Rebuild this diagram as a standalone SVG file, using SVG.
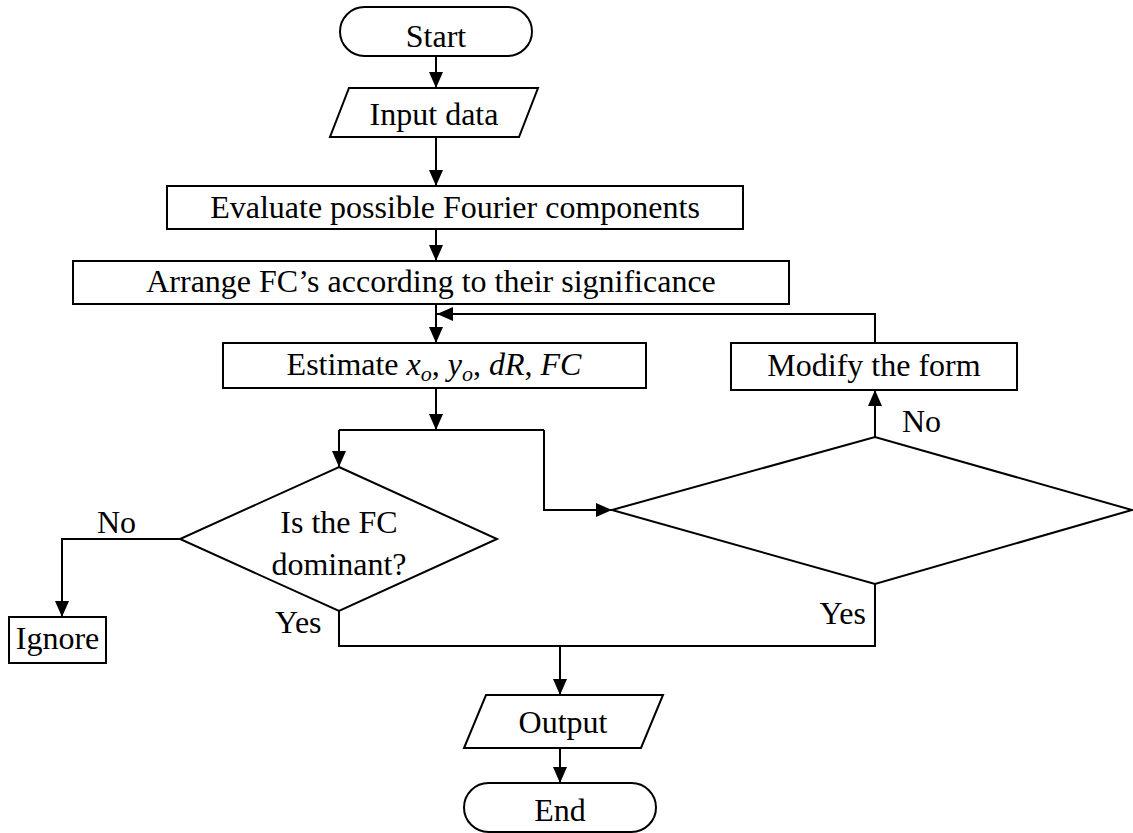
<svg xmlns="http://www.w3.org/2000/svg" width="1133" height="833" viewBox="0 0 1133 833">
<style>
.s{fill:#fff;stroke:#000;stroke-width:2}
.t{font-family:"Liberation Serif","Times New Roman",serif;font-size:32px;fill:#000}
.c{fill:none;stroke:#000;stroke-width:2}
.i{font-style:italic}
</style>
<defs>
<marker id="ah" markerUnits="userSpaceOnUse" markerWidth="16" markerHeight="14" refX="16" refY="7" orient="auto">
<path d="M0,0 L16,7 L0,14 z" fill="#000"/>
</marker>
</defs>
<rect width="1133" height="833" fill="#fff"/>
<g id="connectors">
<path class="c" d="M436,56 V88" marker-end="url(#ah)"/>
<path class="c" d="M436,137 V186" marker-end="url(#ah)"/>
<path class="c" d="M436,229 V261" marker-end="url(#ah)"/>
<path class="c" d="M436,304 V343" marker-end="url(#ah)"/>
<path class="c" d="M875,343 V314 H437" marker-end="url(#ah)"/>
<path class="c" d="M436,388 V430" marker-end="url(#ah)"/>
<path class="c" d="M339,430 H544"/>
<path class="c" d="M339,430 V467" marker-end="url(#ah)"/>
<path class="c" d="M544,430 V510 H612" marker-end="url(#ah)"/>
<path class="c" d="M875,437 V390" marker-end="url(#ah)"/>
<path class="c" d="M875,584 V646 H339 V611"/>
<path class="c" d="M560,646 V695" marker-end="url(#ah)"/>
<path class="c" d="M560,748 V783" marker-end="url(#ah)"/>
<path class="c" d="M180,539 H62 V617" marker-end="url(#ah)"/>
<text class="t" x="97" y="533">No</text>
<text class="t" x="275" y="633">Yes</text>
<text class="t" x="902" y="432">No</text>
<text class="t" x="866" y="624" text-anchor="end">Yes</text>
</g>
<g id="start">
<rect class="s" x="340" y="7" width="192" height="49" rx="24.5"/>
<text class="t" x="436" y="47" text-anchor="middle">Start</text>
</g>
<g id="input">
<polygon class="s" points="349,88 538,88 519,137 330,137"/>
<text class="t" x="434" y="125" text-anchor="middle">Input data</text>
</g>
<g id="evaluate">
<rect class="s" x="167" y="186" width="576" height="43"/>
<text class="t" x="455" y="218" text-anchor="middle">Evaluate possible Fourier components</text>
</g>
<g id="arrange">
<rect class="s" x="73" y="261" width="716" height="43"/>
<text class="t" x="431" y="292" text-anchor="middle">Arrange FC’s according to their significance</text>
</g>
<g id="estimate">
<rect class="s" x="223" y="343" width="423" height="45"/>
<text class="t" x="434" y="375" text-anchor="middle">Estimate <tspan class="i">x</tspan><tspan class="i" font-size="22" dy="6">o</tspan><tspan dy="-6">, </tspan><tspan class="i">y</tspan><tspan class="i" font-size="22" dy="6">o</tspan><tspan dy="-6">, </tspan><tspan class="i">dR</tspan>, <tspan class="i">FC</tspan></text>
</g>
<g id="modify">
<rect class="s" x="731" y="343" width="286" height="47"/>
<text class="t" x="874" y="376" text-anchor="middle">Modify the form</text>
</g>
<g id="decision1">
<polygon class="s" points="339,467 497,539 339,611 180,539"/>
<text class="t" x="339" y="533" text-anchor="middle">Is the FC</text>
<text class="t" x="339" y="575" text-anchor="middle">dominant?</text>
</g>
<g id="decision2">
<polygon class="s" points="612,510 875,437 1132,510 875,584"/>
</g>
<g id="ignore">
<rect class="s" x="9" y="617" width="97" height="46"/>
<text class="t" x="57.5" y="649" text-anchor="middle">Ignore</text>
</g>
<g id="output">
<polygon class="s" points="486,695 663,695 641,748 464,748"/>
<text class="t" x="563" y="733" text-anchor="middle">Output</text>
</g>
<g id="end">
<rect class="s" x="464" y="783" width="192" height="49" rx="24.5"/>
<text class="t" x="560" y="821" text-anchor="middle">End</text>
</g>
</svg>
